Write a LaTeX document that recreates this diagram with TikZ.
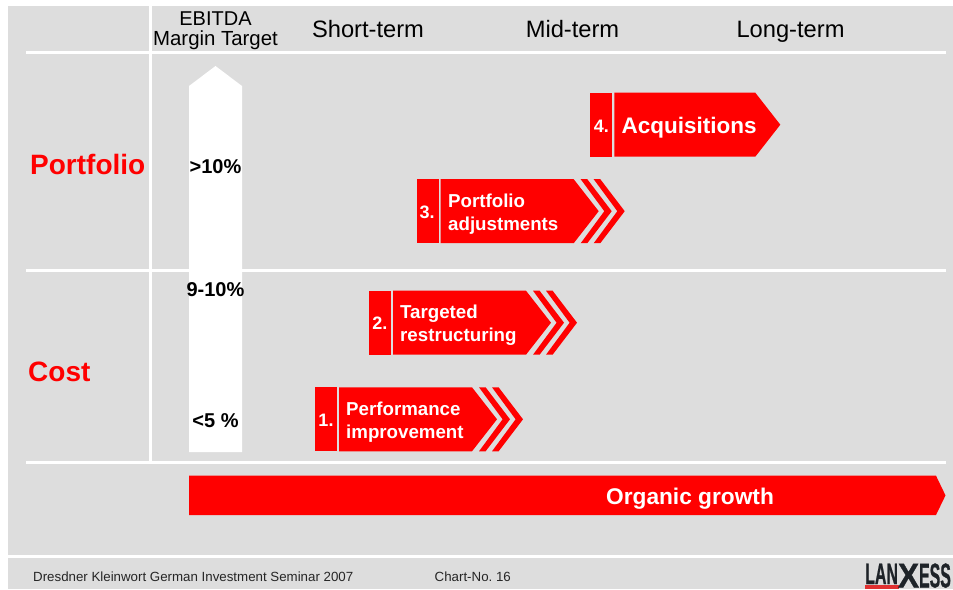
\documentclass[tikz,border=0pt]{standalone}
\usepackage{fontspec}
\usepackage{graphicx}
\setmainfont{Liberation Sans}
\newfontfamily\logofont[UprightFont={* Bold},FakeBold=1]{Liberation Sans}
\definecolor{bggrey}{HTML}{DDDDDD}
\definecolor{logodark}{HTML}{1E2328}
\definecolor{logored}{HTML}{E03030}
\tikzset{
  x=1pt,y=-1pt,
  rule/.style={draw=white,line width=3pt},
  redshape/.style={fill=red,draw=none},
  headtext/.style={text=black,inner sep=0,anchor=base},
  sidetext/.style={font=\fontsize{28}{28}\selectfont\bfseries,text=red,inner sep=0,anchor=base west},
  margintext/.style={font=\fontsize{20}{20}\selectfont\bfseries,text=black,inner sep=0,anchor=base},
  numtext/.style={font=\fontsize{18}{18}\selectfont\bfseries,text=white,inner sep=0},
  steptext/.style={font=\fontsize{18.7}{23}\selectfont\bfseries,text=white,inner sep=0,anchor=west,align=left},
  foottext/.style={font=\fontsize{13.3}{14}\selectfont,text=black!85,inner sep=0,anchor=base west},
  pics/stepshape/.style n args={2}{code={
    % #1 = end of the flat top of the body, #2 = 1 draws the two extra chevrons
    \fill[redshape] (0,0) rectangle (22,64);
    \fill[redshape] (24,0) -- (#1,0) -- (#1+25,32) -- (#1,64) -- (24,64) -- cycle;
    \ifnum#2=1
      \foreach \d in {0,13}{
        \fill[redshape] (#1+7+\d,0) -- (#1+13.6+\d,0) -- (#1+38+\d,32) -- (#1+13.6+\d,64) -- (#1+7+\d,64) -- (#1+30.6+\d,32) -- cycle;
      }
    \fi
  }},
}
\begin{document}
\begin{tikzpicture}
\useasboundingbox (0,0) rectangle (953,589);
\begin{scope}
\clip (0,0) rectangle (953,589);
\fill[bggrey] (8,6) rectangle (953,589);
% rules
\draw[rule] (26,52.5) -- (945.5,52.5);
\draw[rule] (26,270) -- (945.5,270);
\draw[rule] (26,462.5) -- (945.5,462.5);
\draw[rule] (150.5,6) -- (150.5,462.5);
\draw[rule] (8,556.3) -- (953,556.3);
% margin arrow
\fill[white] (189,452) -- (189,86) -- (215.5,66) -- (242,86) -- (242,452) -- cycle;
% steps
\pic at (590.3,92.7) {stepshape={165}{0}};
\pic at (416.7,179.2) {stepshape={157}{1}};
\pic at (369,290.7) {stepshape={157}{1}};
\pic at (315,387.3) {stepshape={157}{1}};
% organic growth
\fill[redshape] (189,475.7) -- (936,475.7) -- (945.5,495.4) -- (936,515) -- (189,515) -- cycle;
% headers
\node[headtext,font=\fontsize{20}{20}\selectfont] (h1) at (215.5,25) {EBITDA};
\node[headtext,font=\fontsize{20.4}{20.4}\selectfont] (h2) at (215.5,45) {Margin Target};
\node[headtext,font=\fontsize{23.7}{23.7}\selectfont] (h3) at (368,37) {Short-term};
\node[headtext,font=\fontsize{23.7}{23.7}\selectfont] (h4) at (572.5,37) {Mid-term};
\node[headtext,font=\fontsize{23.7}{23.7}\selectfont] (h5) at (790.5,37) {Long-term};
% side labels
\node[sidetext] (portfolio) at (30,174) {Portfolio};
\node[sidetext] (cost) at (28,381) {Cost};
% margins
\node[margintext] (m1) at (215.5,173.5) {>10\%};
\node[margintext] (m2) at (215.5,296) {9-10\%};
\node[margintext] (m3) at (215.5,427.5) {<5 \%};
% step labels
\node[numtext] (n4) at (601.3,126) {4.};
\node[numtext] (n3) at (427.2,212) {3.};
\node[numtext] (n2) at (379.8,323.5) {2.};
\node[numtext] (n1) at (326,420) {1.};
\node[steptext,font=\fontsize{22.5}{23}\selectfont\bfseries] (s4) at (621.5,127.5) {Acquisitions};
\node[steptext] (s3) at (448,214) {Portfolio\\adjustments};
\node[steptext] (s2) at (400,325.5) {Targeted\\restructuring};
\node[steptext] (s1) at (346,422) {Performance\\improvement};
\node[font=\fontsize{22.7}{22.7}\selectfont\bfseries,text=white,inner sep=0,anchor=base] (og) at (690,504) {Organic growth};
% footer
\node[foottext] (f1) at (33,581) {Dresdner Kleinwort German Investment Seminar 2007};
\node[foottext] (f2) at (434.5,581) {Chart-No.\ 16};
% logo
\fill[logored] (865,585) rectangle (899,589);
\node[inner sep=0,anchor=base west,text=logodark,font=\logofont] (logo) at (865,587.5) {\raisebox{3.5pt}{\scalebox{0.54}[1]{\fontsize{29.5}{29.5}\selectfont LAN}}\scalebox{0.92}[1]{\fontsize{34.5}{34.5}\selectfont X}\scalebox{0.46}[1]{\fontsize{34.5}{34.5}\selectfont ESS}};
\end{scope}
\end{tikzpicture}
\end{document}
